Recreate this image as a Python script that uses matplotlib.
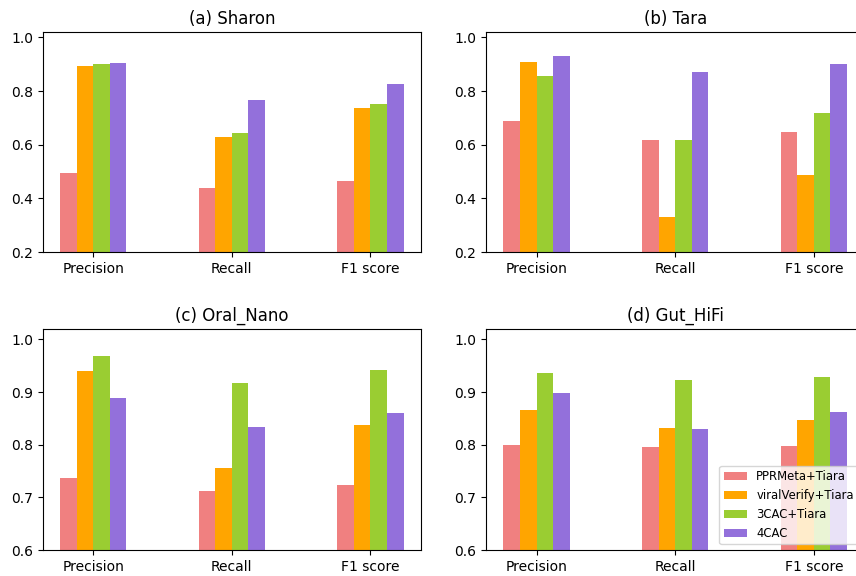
import matplotlib
matplotlib.use('Agg')
import matplotlib.pyplot as plt
import numpy as np

# metrics and methods
metrics = ['Precision', 'Recall', 'F1 score']
methods = ['PPRMeta+Tiara', 'viralVerify+Tiara', '3CAC+Tiara', '4CAC']
colors = ['lightcoral', 'orange', 'yellowgreen', 'mediumpurple']

# values per dataset, one row per method (Precision, Recall, F1 score)
sharon = [[0.496, 0.439, 0.464],
          [0.894, 0.628, 0.736],
          [0.899, 0.645, 0.750],
          [0.903, 0.766, 0.826]]
tara = [[0.689, 0.616, 0.649],
        [0.909, 0.329, 0.486],
        [0.856, 0.619, 0.718],
        [0.932, 0.871, 0.899]]
oral_nano = [[0.736, 0.712, 0.723],
             [0.940, 0.755, 0.838],
             [0.968, 0.918, 0.941],
             [0.888, 0.834, 0.861]]
gut_hifi = [[0.800, 0.796, 0.797],
            [0.866, 0.831, 0.847],
            [0.936, 0.922, 0.929],
            [0.898, 0.829, 0.863]]

titles = ['(a) Sharon', '(b) Tara', '(c) Oral_Nano', '(d) Gut_HiFi']
datasets = [sharon, tara, oral_nano, gut_hifi]
ylows = [0.2, 0.2, 0.6, 0.6]

fig = plt.figure(figsize=(8.56, 5.76), dpi=100)
# the right column runs slightly past the image edge, as in the reference
positions = [[0.050, 0.5625, 0.4416, 0.382],
             [0.568, 0.5625, 0.4416, 0.382],
             [0.050, 0.0451, 0.4416, 0.384],
             [0.568, 0.0451, 0.4416, 0.384]]

x = np.arange(len(metrics))
width = 0.12
for k in range(4):
    ax = fig.add_axes(positions[k])
    data = datasets[k]
    for i in range(len(methods)):
        ax.bar(x + (i - 1.5) * width, data[i], width, color=colors[i], label=methods[i])
    ax.set_xticks(x)
    ax.set_xticklabels(metrics)
    ax.set_ylim(ylows[k], 1.02)
    ax.set_title(titles[k])
    if k == 3:
        ax.legend(loc='lower right', fontsize='small')

plt.savefig('out.png', dpi=100)
